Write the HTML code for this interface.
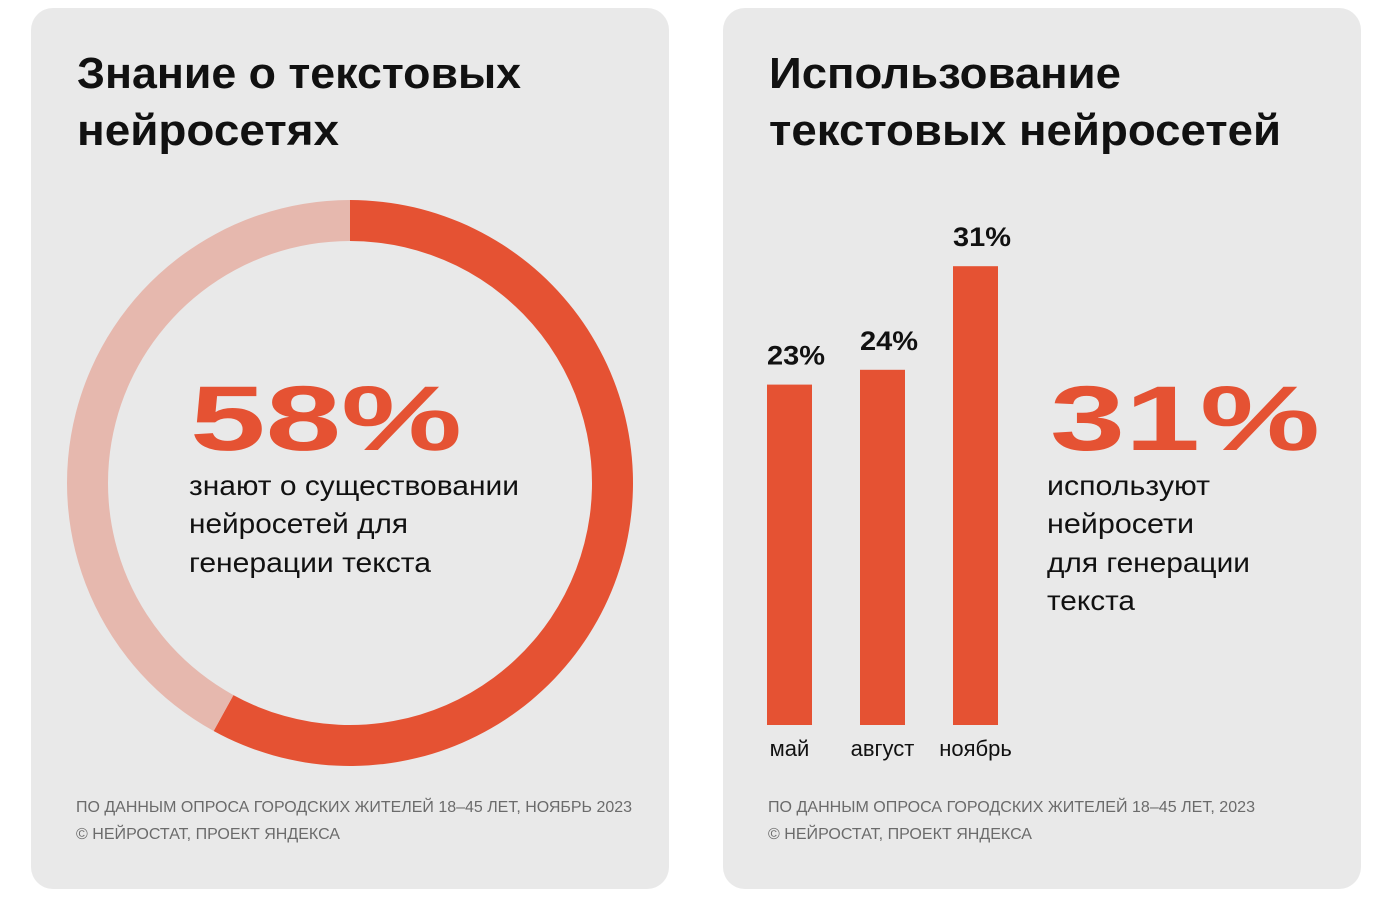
<!DOCTYPE html>
<html><head><meta charset="utf-8"><style>
html,body{margin:0;padding:0;background:#fff;width:1393px;height:900px;overflow:hidden}
svg text{font-family:"Liberation Sans","DejaVu Sans",sans-serif}
</style></head><body>
<svg width="1393" height="900" viewBox="0 0 1393 900" xmlns="http://www.w3.org/2000/svg">
<rect x="31" y="8" width="638" height="881" rx="22" fill="#e9e9e9"/>
<rect x="723" y="8" width="638" height="881" rx="22" fill="#e9e9e9"/>
<g font-weight="bold" font-size="44" fill="#111">
<text x="77" y="88" textLength="444" lengthAdjust="spacingAndGlyphs">Знание о текстовых</text>
<text x="77" y="145" textLength="262" lengthAdjust="spacingAndGlyphs">нейросетях</text>
</g>
<g font-weight="bold" font-size="44" fill="#111">
<text x="769" y="88" textLength="352" lengthAdjust="spacingAndGlyphs">Использование</text>
<text x="769" y="145" textLength="512" lengthAdjust="spacingAndGlyphs">текстовых нейросетей</text>
</g>
<g id="donut"></g>
<text x="190" y="450" font-size="92" font-weight="bold" fill="#e55233" textLength="272" lengthAdjust="spacingAndGlyphs">58%</text>
<g font-size="28" fill="#111">
<text x="189" y="495" textLength="330" lengthAdjust="spacingAndGlyphs">знают о существовании</text>
<text x="189" y="533" textLength="219" lengthAdjust="spacingAndGlyphs">нейросетей для</text>
<text x="189" y="572" textLength="242" lengthAdjust="spacingAndGlyphs">генерации текста</text>
</g>
<g id="bars"></g>
<text x="1050" y="450" font-size="92" font-weight="bold" fill="#e55233" textLength="270" lengthAdjust="spacingAndGlyphs">31%</text>
<g font-size="28" fill="#111">
<text x="1047" y="495" textLength="163" lengthAdjust="spacingAndGlyphs">используют</text>
<text x="1047" y="533" textLength="147" lengthAdjust="spacingAndGlyphs">нейросети</text>
<text x="1047" y="572" textLength="203" lengthAdjust="spacingAndGlyphs">для генерации</text>
<text x="1047" y="610" textLength="88" lengthAdjust="spacingAndGlyphs">текста</text>
</g>
<g font-size="16" fill="#6b6b6b">
<text x="76" y="812" textLength="556" lengthAdjust="spacingAndGlyphs">ПО ДАННЫМ ОПРОСА ГОРОДСКИХ ЖИТЕЛЕЙ 18–45 ЛЕТ, НОЯБРЬ 2023</text>
<text x="76" y="839" textLength="264" lengthAdjust="spacingAndGlyphs">© НЕЙРОСТАТ, ПРОЕКТ ЯНДЕКСА</text>
</g>
<g font-size="16" fill="#6b6b6b">
<text x="768" y="812" textLength="487" lengthAdjust="spacingAndGlyphs">ПО ДАННЫМ ОПРОСА ГОРОДСКИХ ЖИТЕЛЕЙ 18–45 ЛЕТ, 2023</text>
<text x="768" y="839" textLength="264" lengthAdjust="spacingAndGlyphs">© НЕЙРОСТАТ, ПРОЕКТ ЯНДЕКСА</text>
</g>
</svg>
<script>
const donutValues = [58, 42];
const donutColors = ['#e55233', '#e6b8ae'];
const barCategories = ['май', 'август', 'ноябрь'];
const barValues = [23, 24, 31];
const barLabels = ['23%', '24%', '31%'];

const NS = 'http://www.w3.org/2000/svg';
(function(){
  const g = document.getElementById('donut');
  const cx = 350, cy = 483, R = 283, r = 242;
  const total = donutValues.reduce((a,b)=>a+b,0);
  let a0 = 0;
  donutValues.forEach((v,i)=>{
    const a1 = a0 + v/total*Math.PI*2;
    const p = (rad,ang)=>[cx+rad*Math.sin(ang), cy-rad*Math.cos(ang)];
    const large = (a1-a0) > Math.PI ? 1 : 0;
    const [x1,y1]=p(R,a0),[x2,y2]=p(R,a1),[x3,y3]=p(r,a1),[x4,y4]=p(r,a0);
    const path = document.createElementNS(NS,'path');
    path.setAttribute('d',`M${x1},${y1} A${R},${R} 0 ${large} 1 ${x2},${y2} L${x3},${y3} A${r},${r} 0 ${large} 0 ${x4},${y4} Z`);
    path.setAttribute('fill',donutColors[i]);
    
    
    g.appendChild(path);
    a0 = a1;
  });
})();
(function(){
  const g = document.getElementById('bars');
  const base = 725, pxPer = 14.8, x0 = 767, step = 93, w = 45;
  const y = v => base - v*pxPer;
  barValues.forEach((v,i)=>{
    const x = x0 + i*step;
    const rect = document.createElementNS(NS,'rect');
    rect.setAttribute('x',x); rect.setAttribute('y',y(v));
    rect.setAttribute('width',w); rect.setAttribute('height',base-y(v));
    rect.setAttribute('fill','#e55233');
    
    
    g.appendChild(rect);
    const lab = document.createElementNS(NS,'text');
    lab.setAttribute('x',x); lab.setAttribute('y',y(v)-20);
    lab.setAttribute('font-size','27');
    lab.setAttribute('textLength','58'); lab.setAttribute('lengthAdjust','spacingAndGlyphs');
    lab.setAttribute('font-weight','bold'); lab.setAttribute('fill','#111');
    lab.textContent = barLabels[i];
    
    
    g.appendChild(lab);
    const cat = document.createElementNS(NS,'text');
    cat.setAttribute('x',x+w/2); cat.setAttribute('y',756);
    cat.setAttribute('text-anchor','middle'); cat.setAttribute('font-size','22');
    cat.setAttribute('fill','#111');
    cat.textContent = barCategories[i];
    
    
    g.appendChild(cat);
  });
})();
</script>
</body></html>
